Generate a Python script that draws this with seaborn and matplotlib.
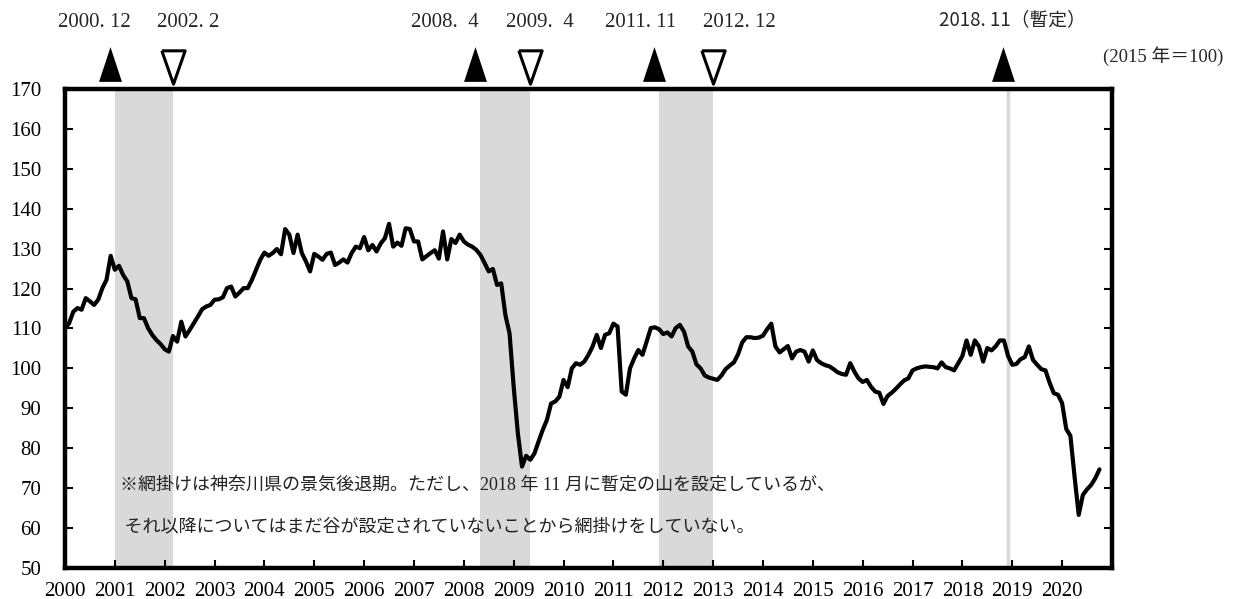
import numpy as np
import pandas as pd
import matplotlib
matplotlib.use("Agg")
import matplotlib.pyplot as plt
import seaborn as sns

# monthly index (2015=100), Jan 2000 .. Oct 2020
index_values = [
    110.1, 111.3, 114.2, 115.1, 114.7, 117.6, 116.8, 115.9, 117.2, 120.1, 122.2, 128.2,  # 2000
    124.7, 125.7, 123.4, 121.8, 117.6, 117.3, 112.6, 112.6, 110.1, 108.4, 107.1, 106.1,  # 2001
    104.8, 104.2, 108.1, 106.7, 111.7, 108.0, 109.6, 111.3, 113.0, 114.8, 115.5, 115.9,  # 2002
    117.2, 117.3, 117.8, 120.1, 120.5, 118.0, 119.0, 120.1, 120.1, 122.2, 124.7, 127.2,  # 2003
    129.0, 128.2, 128.9, 129.9, 128.6, 134.9, 133.5, 128.9, 133.5, 128.9, 126.8, 124.3,  # 2004
    128.7, 128.0, 127.2, 128.7, 129.0, 125.9, 126.5, 127.3, 126.5, 128.9, 130.5, 130.1,  # 2005
    132.9, 129.6, 130.9, 129.3, 131.3, 132.6, 136.2, 130.5, 131.5, 130.7, 135.1, 134.9,  # 2006
    131.8, 131.8, 127.3, 128.1, 128.9, 129.6, 127.5, 134.3, 127.3, 132.4, 131.4, 133.5,  # 2007
    131.8, 131.0, 130.5, 129.7, 128.4, 126.4, 124.3, 124.9, 120.9, 121.3, 113.4, 108.8,  # 2008
    95.4, 83.8, 75.4, 78.1, 77.1, 78.7, 81.7, 84.6, 87.1, 91.2, 91.7, 92.9,              # 2009
    97.1, 95.3, 100.0, 101.3, 100.9, 101.7, 103.4, 105.5, 108.4, 105.1, 108.4, 108.8,    # 2010
    111.2, 110.5, 94.2, 93.4, 100.0, 102.5, 104.6, 103.4, 106.7, 110.1, 110.3, 109.8,    # 2011
    108.6, 109.0, 108.0, 110.1, 110.9, 109.2, 105.5, 104.2, 101.0, 100.0, 98.2, 97.7,    # 2012
    97.4, 97.1, 98.2, 99.8, 100.7, 101.5, 103.5, 106.5, 107.8, 107.8, 107.6, 107.7,      # 2013
    108.2, 109.8, 111.2, 105.5, 104.0, 104.8, 105.6, 102.5, 104.2, 104.6, 104.2, 101.7,  # 2014
    104.5, 102.1, 101.3, 100.8, 100.5, 99.8, 99.0, 98.6, 98.4, 101.3, 99.2, 97.5,        # 2015
    96.6, 97.1, 95.4, 94.2, 93.9, 91.1, 93.1, 93.9, 94.9, 96.0, 97.0, 97.5,              # 2016
    99.5, 100.0, 100.3, 100.5, 100.4, 100.3, 100.0, 101.5, 100.3, 100.0, 99.5, 101.3,    # 2017
    103.1, 107.0, 103.4, 107.0, 105.5, 101.7, 105.1, 104.5, 105.5, 107.0, 107.0, 103.1,  # 2018
    100.9, 101.1, 102.3, 102.8, 105.5, 102.1, 100.9, 99.8, 99.5, 96.4, 93.8, 93.4,       # 2019
    91.3, 84.8, 83.1, 72.9, 63.3, 68.3, 69.7, 70.8, 72.5, 74.7,                          # 2020
]
start_year = 2000

# business cycle turning points (year, month)
peaks = [(2000, 12), (2008, 4), (2011, 11)]
troughs = [(2002, 2), (2009, 4), (2012, 12)]
provisional_peak = (2018, 11)
peak_labels = ["2000. 12", "2008.  4", "2011. 11"]
trough_labels = ["2002. 2", "2009.  4", "2012. 12"]
provisional_label = "2018. 11（暫定）"

year_ticks = list(range(2000, 2021))
y_ticks = list(range(50, 171, 10))

note_lines = [
    "※網掛けは神奈川県の景気後退期。ただし、2018 年 11 月に暫定の山を設定しているが、",
    " それ以降についてはまだ谷が設定されていないことから網掛けをしていない。",
]
unit_label = "(2015 年＝100)"

df = pd.DataFrame({
    "x": start_year + np.arange(len(index_values)) / 12,
    "value": index_values,
})


def ym(p):
    return p[0] + p[1] / 12


sns.set_theme(style="white")
plt.rcParams["font.family"] = ["Liberation Serif", "Noto Sans CJK JP"]

fig = plt.figure(figsize=(12.47, 5.99), dpi=100)
ax = fig.add_axes([0.0521, 0.0518, 0.8396, 0.7997])

# recession shading
for p, t in zip(peaks, troughs):
    ax.axvspan(ym(p), ym(t), color="#d9d9d9", lw=0, zorder=0)
ax.axvline(ym(provisional_peak), color="#d9d9d9", lw=2.5, zorder=0)

sns.lineplot(data=df, x="x", y="value", color="black", lw=3, ax=ax, zorder=3)

ax.set_xlim(2000, 2021)
ax.set_ylim(50, 170)
ax.set_xticks(year_ticks)
ax.set_xticklabels([str(y) for y in year_ticks])
ax.set_yticks(y_ticks)
ax.set_xlabel("")
ax.set_ylabel("")
for s in ax.spines.values():
    s.set_linewidth(3.2)
    s.set_color("black")
    s.set_zorder(4)
ax.tick_params(axis="both", direction="in", length=6, width=1.5, colors="black", labelsize=15)
ax.tick_params(axis="y", left=True, right=True, pad=17)
ax.tick_params(axis="x", bottom=True, top=False, pad=10)

# turning point markers above the frame
up_tri = [(-0.66, -1), (0.66, -1), (0, 1), (-0.66, -1)]
down_tri = [(-0.7, 1), (0.7, 1), (0, -1), (-0.7, 1)]
peak_x = [ym(p) - 0.1 for p in peaks + [provisional_peak]]
ax.plot(peak_x, [176.2] * len(peak_x), ls="none", marker=up_tri, ms=25,
        color="black", mew=0, clip_on=False, zorder=5)
trough_x = [ym(t) for t in troughs]
ax.plot(trough_x, [175.4] * len(trough_x), ls="none", marker=down_tri, ms=24,
        mfc="white", mec="black", mew=2.2, clip_on=False, zorder=5)

peak_label_x = [2000.58, 2007.62, 2011.54]
trough_label_x = [2002.48, 2009.52, 2013.53]
for x, lab in zip(peak_label_x, peak_labels):
    ax.text(x, 186.6, lab, ha="center", va="center", fontsize=15, clip_on=False)
for x, lab in zip(trough_label_x, trough_labels):
    ax.text(x, 186.6, lab, ha="center", va="center", fontsize=15, clip_on=False)
ax.text(2019.0, 187.3, provisional_label, ha="center", va="center", fontsize=13.5,
        family=["Noto Sans CJK JP"], clip_on=False)

fig.text(0.9326, 0.9065, unit_label, ha="center", va="center", fontsize=13.5)

ax.text(2001.1, 70.8, note_lines[0], ha="left", va="center", fontsize=13, color="#222222")
ax.text(2001.1, 60.3, note_lines[1], ha="left", va="center", fontsize=13, color="#222222")

fig.savefig("out.png", dpi=100)
